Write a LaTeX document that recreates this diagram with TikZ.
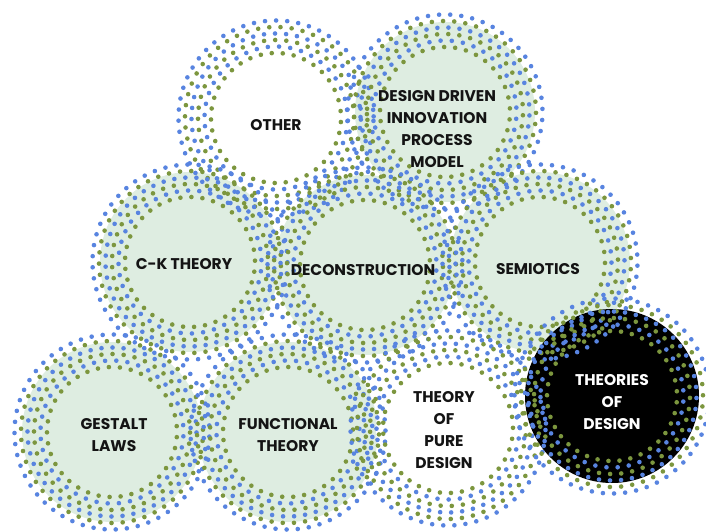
\documentclass[tikz,border=0pt]{standalone}
\usepackage{fontspec}
\setmainfont{Poppins}
\definecolor{dotblue}{RGB}{88,132,224}
\definecolor{dotgreen}{RGB}{124,150,62}
\definecolor{mint}{RGB}{222,237,225}
\newcommand\dotring[3]{%
  \foreach \rr/\cc in {65/dotgreen,71.5/dotblue,78/dotgreen,84.5/dotblue,91/dotgreen,97.5/dotblue}{%
    \pgfmathtruncatemacro\nn{2*pi*\rr/11}%
    \pgfmathsetmacro\st{360/\nn}%
    \foreach \k in {1,...,\nn}{%
      \fill[\cc] (#1,#2) ++({#3+\k*\st+\rr*2.3}:\rr) circle (2.3);
    }%
  }%
}
\tikzset{
  lbl/.style={font=\fontsize{15.5}{21.7}\selectfont\bfseries, align=center, text=black!92, inner sep=0pt},
  lblw/.style={lbl, text=white},
}
\begin{document}
\begin{tikzpicture}[x=1pt,y={(0pt,-1pt)}]
\useasboundingbox (0,0) rectangle (706,532);
% fills
\foreach \cx/\cy in {445/112, 190/262, 365/265, 540/262, 112/432, 288/432}{
  \fill[mint] (\cx,\cy) circle (90);
}
\fill[white] (276,118) circle (72);
\fill[white] (448,428) circle (72);
\fill[black] (612,396) circle (87);
% dot rings
\dotring{276}{118}{0}
\dotring{445}{112}{3}
\dotring{190}{262}{5}
\dotring{365}{265}{2}
\dotring{540}{262}{7}
\dotring{112}{432}{1}
\dotring{288}{432}{4}
\dotring{448}{428}{6}
\dotring{612}{396}{2}
% labels
\node[lbl] (other) at (276,125) {OTHER};
\node[lbl] (ddipm) at (437,129) {DESIGN DRIVEN\\INNOVATION\\PROCESS\\MODEL};
\node[lbl] (ck) at (184,264) {C-K THEORY};
\node[lbl] (decon) at (363,270) {DECONSTRUCTION};
\node[lbl] (semio) at (538,269) {SEMIOTICS};
\node[lbl] (gestalt) at (114,435) {GESTALT\\LAWS};
\node[lbl] (func) at (288,435) {FUNCTIONAL\\THEORY};
\node[lbl] (pure) at (444,430) {THEORY\\OF\\PURE\\DESIGN};
\node[lblw] (theories) at (612,402) {THEORIES\\OF\\DESIGN};
\end{tikzpicture}
\end{document}
